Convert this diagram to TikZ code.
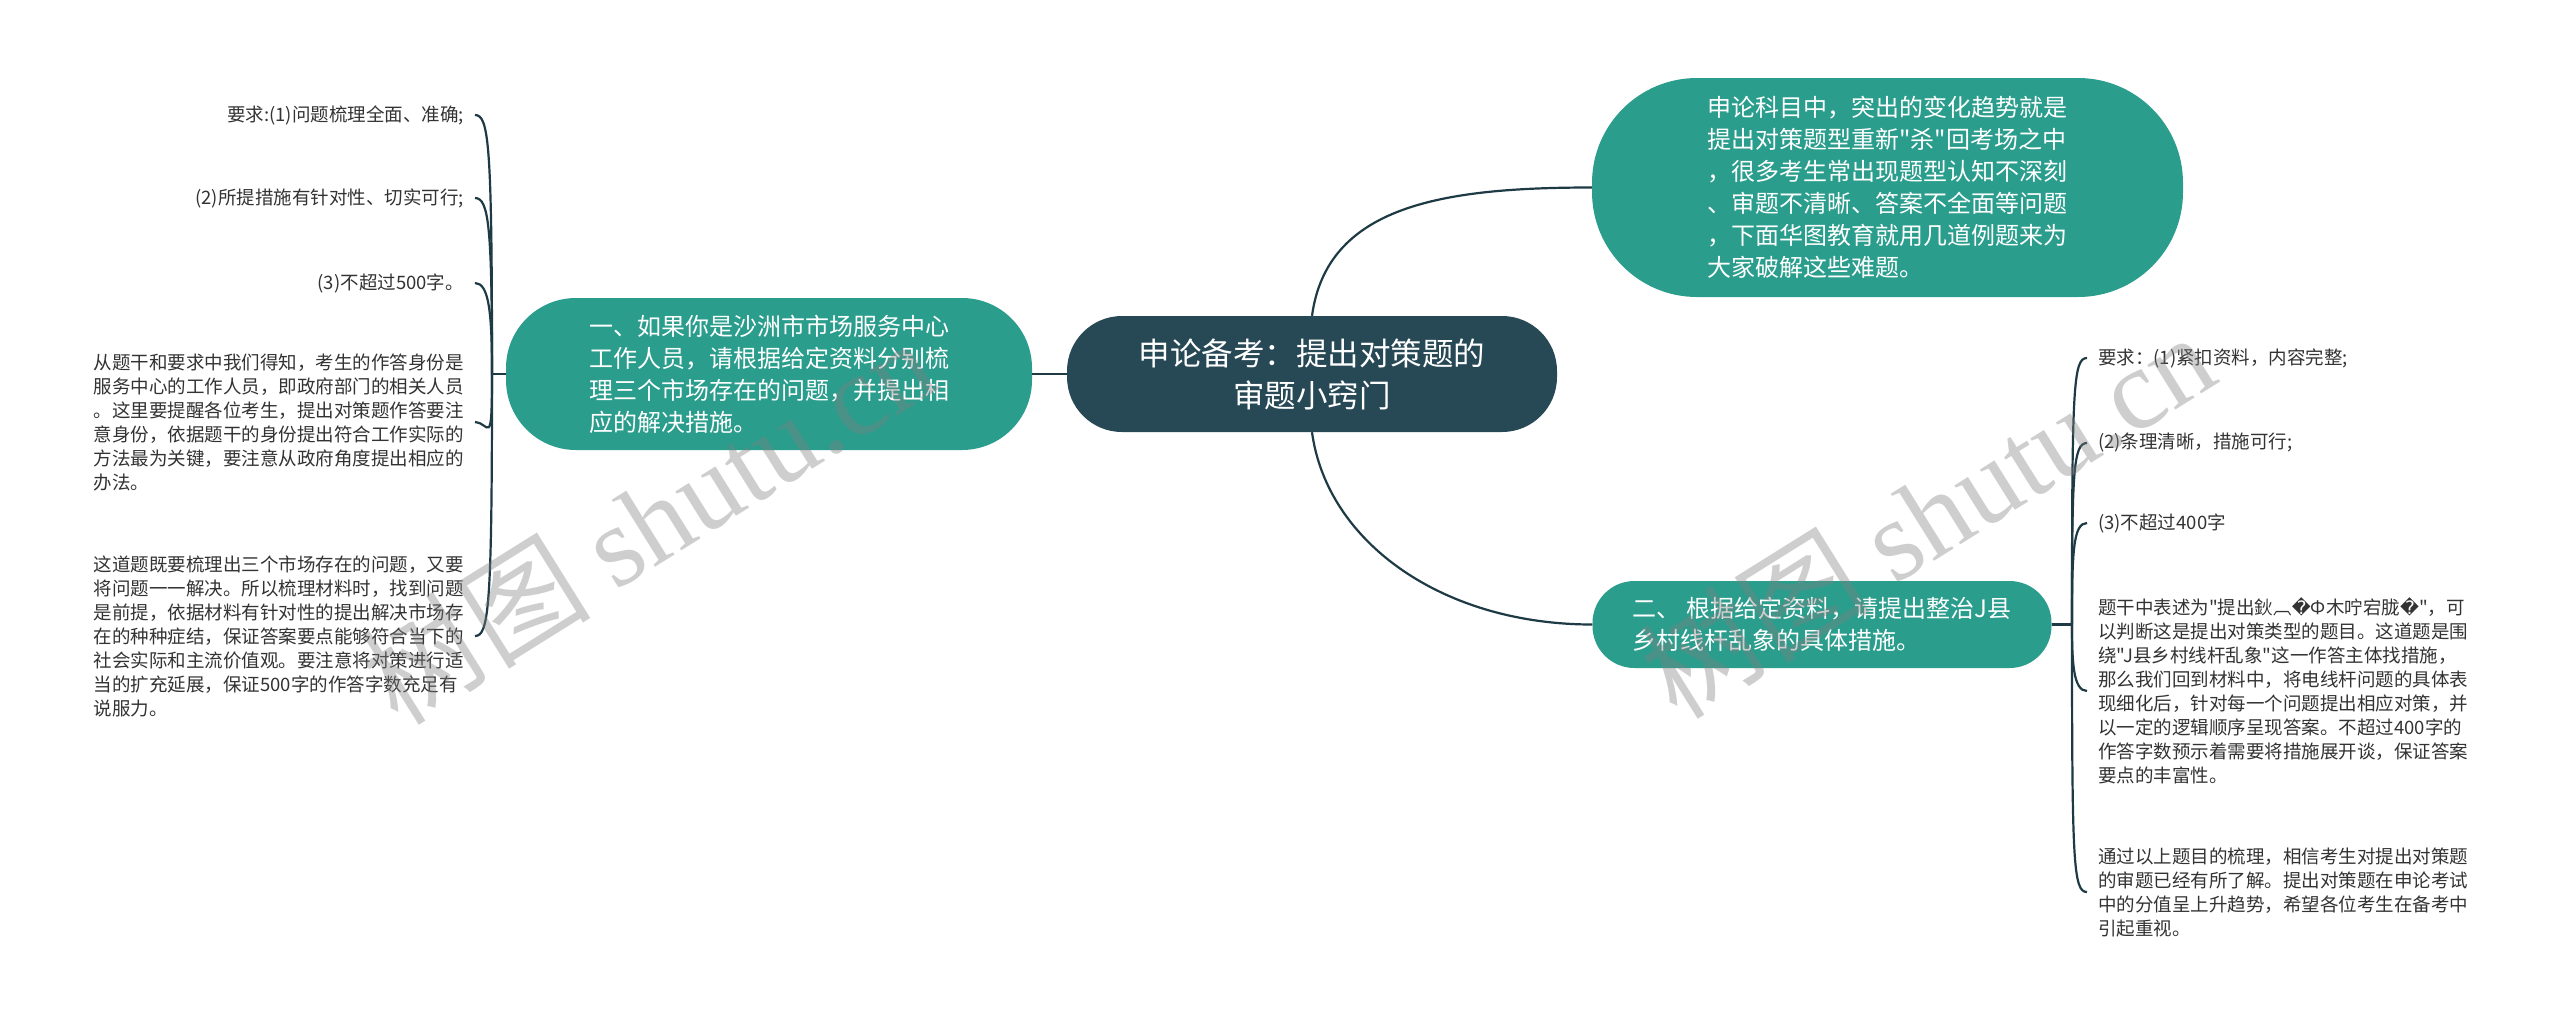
\documentclass[tikz,border=0pt]{standalone}
\usepackage{fontspec}
\setmainfont{Noto Sans CJK SC}[Ligatures=TeXOff]
\newfontfamily\dejavu{DejaVu Sans}
\newfontfamily\wmserif{Liberation Serif}
\usetikzlibrary{calc}
\definecolor{slate}{HTML}{274855}
\definecolor{topicteal}{HTML}{2A9D8C}
\definecolor{linkcol}{HTML}{1E3A45}
\definecolor{leaftext}{HTML}{333333}
\newcommand{\badchar}{{\dejavu �}}
\tikzset{
  rootbox/.style={
    fill=slate,text=white,inner sep=0pt,align=center,
    font=\fontsize{31.5}{42}\selectfont
  },
  topicbox/.style={
    fill=topicteal,text=white,inner sep=0pt,align=left,
    font=\fontsize{24}{32}\selectfont
  },
  leafnote/.style={
    text=leaftext,inner xsep=11pt,inner ysep=2pt,
    font=\fontsize{18.5}{24}\selectfont
  },
  link/.style={draw=linkcol,line width=2.2pt},
  watermark/.style={
    rotate=32,text=gray,text opacity=0.38,
    font=\fontsize{115}{115}\selectfont
  }
}

\begin{document}
\begin{tikzpicture}[x=1pt,y=-1pt]
\useasboundingbox (0,0) rectangle (2560,1029);
\fill[white] (0,0) rectangle (2560,1029);

% main topics
\node[rootbox,minimum width=490pt,minimum height=116pt,rounded corners=55pt] (root) at (1312,374)
  {申论备考：提出对策题的\\审题小窍门};
\node[topicbox,minimum width=526pt,minimum height=152pt,rounded corners=70pt] (q1) at (769,374)
  {一、如果你是沙洲市市场服务中心\\工作人员，请根据给定资料分别梳\\理三个市场存在的问题，并提出相\\应的解决措施。};
\node[topicbox,minimum width=591pt,minimum height=219pt,rounded corners=105pt] (intro) at (1887.5,187.5)
  {申论科目中，突出的变化趋势就是\\提出对策题型重新"杀"回考场之中\\，很多考生常出现题型认知不深刻\\、审题不清晰、答案不全面等问题\\，下面华图教育就用几道例题来为\\大家破解这些难题。};
\node[topicbox,minimum width=459pt,minimum height=87pt,rounded corners=42pt] (q2) at (1822,624.5)
  {二、 根据给定资料，请提出整治J县\\乡村线杆乱象的具体措施。};

% left leaves
\node[leafnote,anchor=east,align=right] (la) at (475,115) {要求:(1)问题梳理全面、准确;};
\node[leafnote,anchor=east,align=right] (lb) at (475,198) {(2)所提措施有针对性、切实可行;};
\node[leafnote,anchor=east,align=right] (lc) at (475,283) {(3)不超过500字。};
\node[leafnote,anchor=east,align=left] (ld) at (475,422)
  {从题干和要求中我们得知，考生的作答身份是\\服务中心的工作人员，即政府部门的相关人员\\。这里要提醒各位考生，提出对策题作答要注\\意身份，依据题干的身份提出符合工作实际的\\方法最为关键，要注意从政府角度提出相应的\\办法。};
\node[leafnote,anchor=east,align=left] (le) at (475,636)
  {这道题既要梳理出三个市场存在的问题，又要\\将问题一一解决。所以梳理材料时，找到问题\\是前提，依据材料有针对性的提出解决市场存\\在的种种症结，保证答案要点能够符合当下的\\社会实际和主流价值观。要注意将对策进行适\\当的扩充延展，保证500字的作答字数充足有\\说服力。};

% right leaves
\node[leafnote,anchor=west,align=left] (ra) at (2087,358) {要求：(1)紧扣资料，内容完整;};
\node[leafnote,anchor=west,align=left] (rb) at (2087,443) {(2)条理清晰，措施可行;};
\node[leafnote,anchor=west,align=left] (rc) at (2087,523) {(3)不超过400字};
\node[leafnote,anchor=west,align=left] (rd) at (2087,691)
  {题干中表述为"提出鈥︹\badchar Ф木咛宕胧\badchar"，可\\以判断这是提出对策类型的题目。这道题是围\\绕"J县乡村线杆乱象"这一作答主体找措施，\\那么我们回到材料中，将电线杆问题的具体表\\现细化后，针对每一个问题提出相应对策，并\\以一定的逻辑顺序呈现答案。不超过400字的\\作答字数预示着需要将措施展开谈，保证答案\\要点的丰富性。};
\node[leafnote,anchor=west,align=left] (re) at (2087,892)
  {通过以上题目的梳理，相信考生对提出对策题\\的审题已经有所了解。提出对策题在申论考试\\中的分值呈上升趋势，希望各位考生在备考中\\引起重视。};

\coordinate (lj) at (492,374);
\coordinate (rj) at (2072,624.5);

% connectors
\draw[link] (root.west) -- (q1.east);
\draw[link] (root.north) .. controls +(15,-110) and +(-150,0) .. (intro.west);
\draw[link] (root.south) .. controls +(15,110) and +(-150,0) .. (q2.west);
\draw[link] (q1.west) -- (lj);
\draw[link] (q2.east) -- (rj);
\foreach \n/\d in {la/30,lb/30,lc/30,ld/30,le/-30}
  \draw[link] (lj) .. controls ($(lj |- \n.east)+(0,\d)$) and ($(\n.east)+(14,0)$) .. (\n.east);
\foreach \n/\d in {ra/30,rb/30,rc/30,rd/-30,re/-30}
  \draw[link] (rj) .. controls ($(rj |- \n.west)+(0,\d)$) and ($(\n.west)+(-14,0)$) .. (\n.west);

% watermarks
\node[watermark] (wmleft) at (648,520) {树图 {\wmserif shutu.cn}};
\node[watermark] (wmright) at (1927,514) {树图 {\wmserif shutu.cn}};
\end{tikzpicture}
\end{document}
